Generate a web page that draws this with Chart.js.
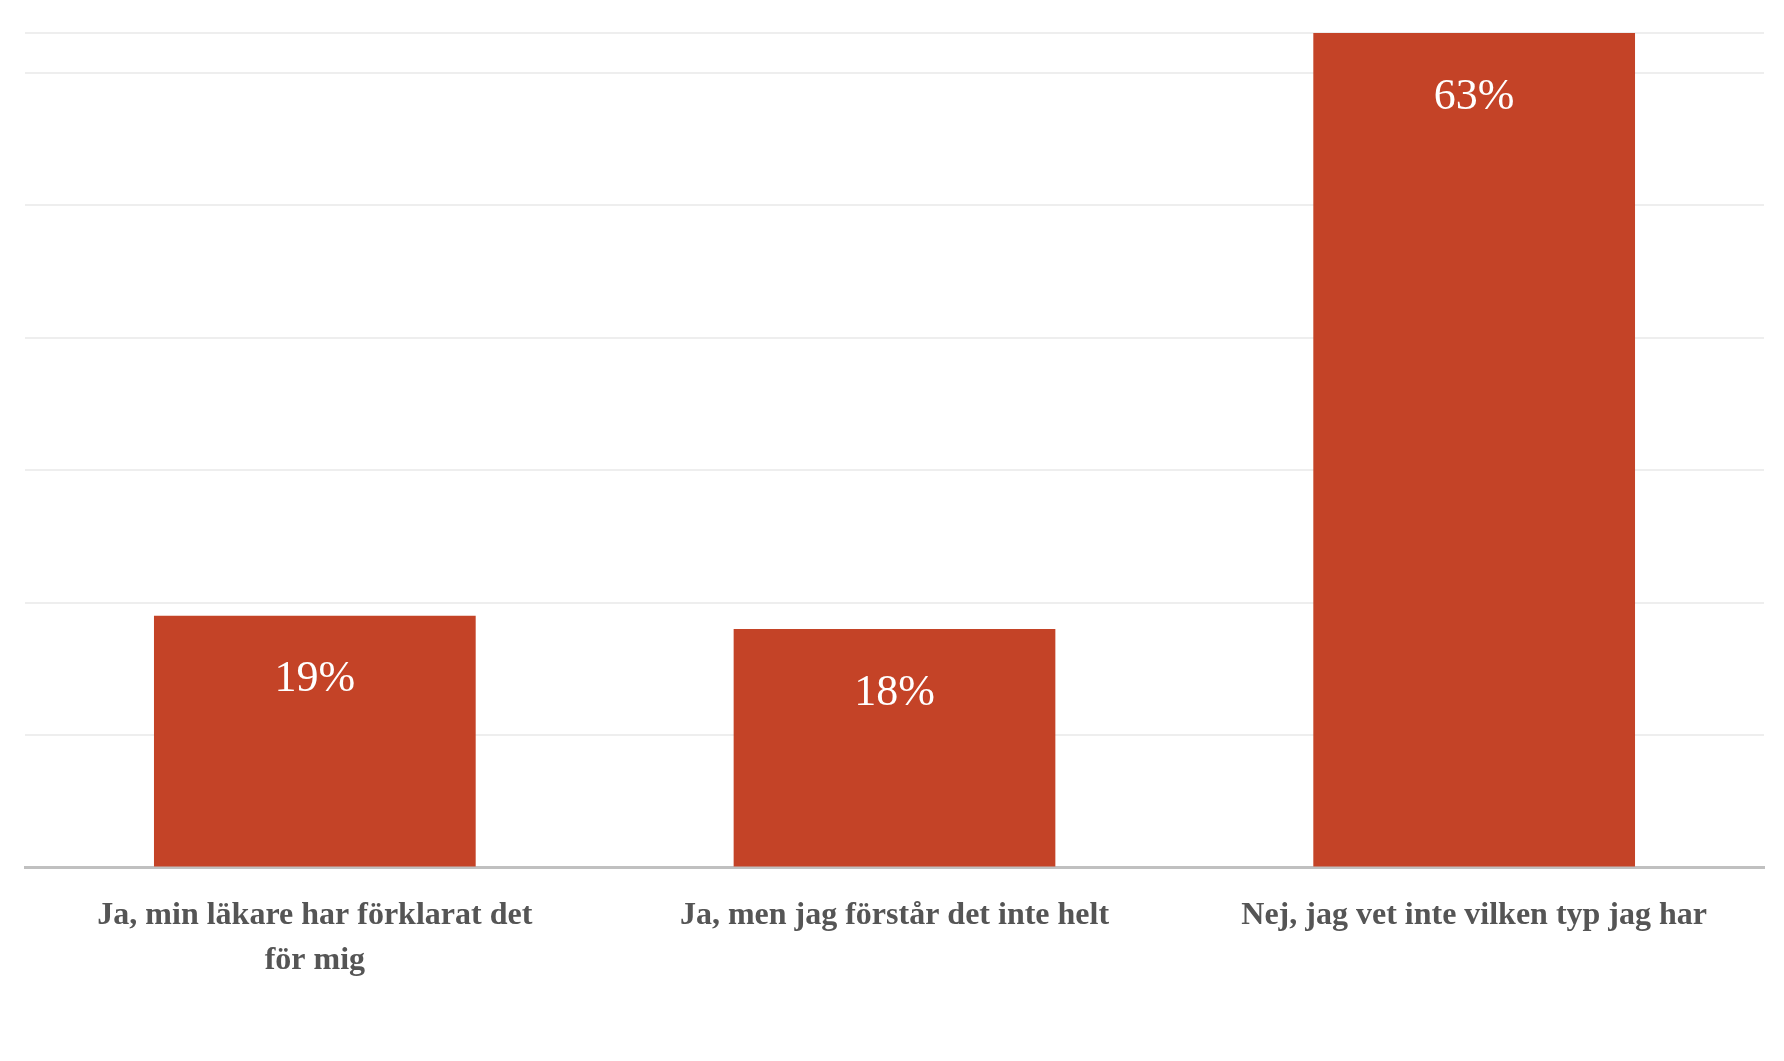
<!DOCTYPE html>
<html>
<head>
<meta charset="utf-8">
<script src="https://cdn.jsdelivr.net/npm/chart.js@4"></script>
<style>
  html, body { margin: 0; padding: 0; background: #fff; }
  #wrap { width: 1784px; height: 1061px; }
</style>
</head>
<body>
<div id="wrap"><canvas id="chart"></canvas></div>
<script>
const categories = [
    ['Ja, min läkare har förklarat det', 'för mig'],
    'Ja, men jag förstår det inte helt',
    'Nej, jag vet inte vilken typ jag har'
];
const values = [19, 18, 63];
const valueLabels = ['19%', '18%', '63%'];

const barLabels = {
    id: 'barLabels',
    afterDatasetsDraw(chart) {
        const ctx = chart.ctx;
        const meta = chart.getDatasetMeta(0);
        ctx.save();
        ctx.fillStyle = '#ffffff';
        ctx.font = '44px "Liberation Serif", "DejaVu Serif", serif';
        ctx.textAlign = 'center';
        ctx.textBaseline = 'middle';
        meta.data.forEach((bar, i) => {
            ctx.fillText(valueLabels[i], bar.x, bar.y + 64);
        });
        ctx.restore();
    }
};

new Chart(document.getElementById('chart'), {
    type: 'bar',
    data: {
        labels: categories,
        datasets: [{
            data: values,
            backgroundColor: '#c44327',
            barPercentage: 0.555,
            categoryPercentage: 1
        }]
    },
    options: {
        responsive: true,
        maintainAspectRatio: false,
        animation: false,
        layout: { padding: { top: 33, left: 25, right: 20, bottom: 60 } },
        plugins: { legend: { display: false }, tooltip: { enabled: false } },
        scales: {
            x: {
                grid: { display: false },
                border: { color: '#c0c0c0', width: 3 },
                ticks: {
                    color: '#555555',
                    padding: 18,
                    maxRotation: 0,
                    font: { family: '"Liberation Serif", "DejaVu Serif", serif', size: 32, weight: 'bold', lineHeight: 1.4 }
                }
            },
            y: {
                min: 0,
                max: 63,
                ticks: { display: false, stepSize: 10 },
                grid: { color: '#eeeeee', lineWidth: 2, drawTicks: false },
                border: { display: false }
            }
        }
    },
    plugins: [barLabels]
});
</script>
</body>
</html>
